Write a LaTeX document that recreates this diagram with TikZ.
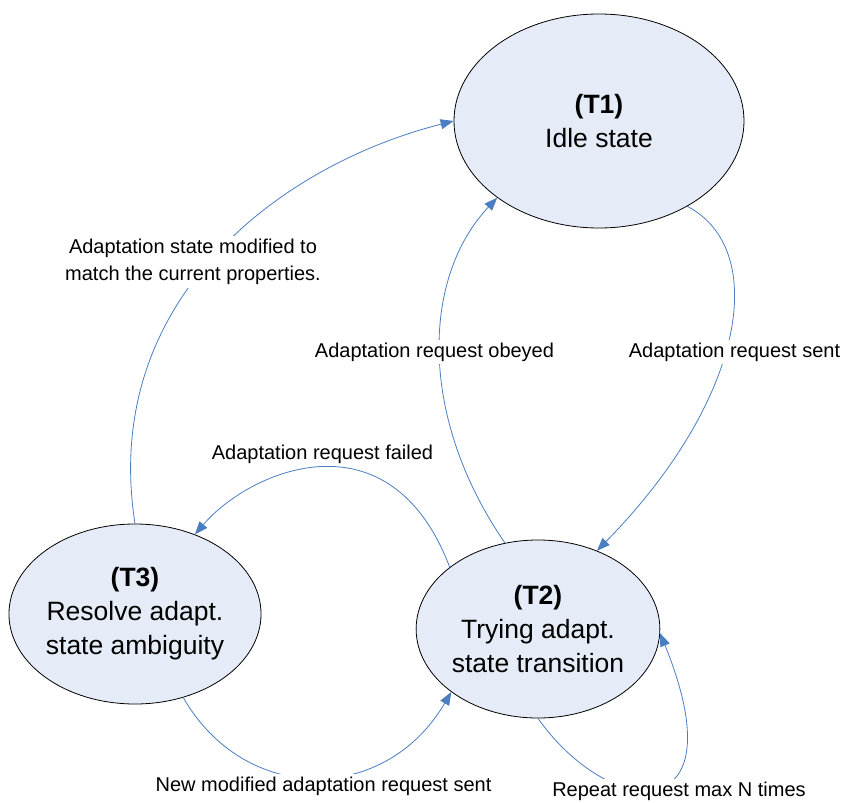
\documentclass[tikz,border=0pt]{standalone}
\usepackage{fontspec}
\setmainfont{Liberation Sans}
\usetikzlibrary{shapes.geometric,arrows.meta}
\definecolor{conncol}{RGB}{74,126,193}
\definecolor{statefill}{RGB}{230,236,247}
\tikzset{
  statenode/.style={ellipse,draw=black,line width=0.8pt,fill=statefill,inner sep=0pt,
    align=center,font=\fontsize{26.5}{34}\selectfont},
  conn/.style={draw=conncol,line width=0.8pt,-{Triangle[length=13pt,width=10pt]}},
  lbl/.style={fill=white,inner xsep=1pt,inner ysep=3pt,align=center,font=\fontsize{20}{27}\selectfont}
}
\begin{document}
\begin{tikzpicture}[x=1pt,y=-1pt]
\useasboundingbox (0,0) rectangle (844,803);
\node[statenode,minimum width=290pt,minimum height=214pt] (T1) at (599,121) {\textbf{(T1)}\\Idle state};
\node[statenode,minimum width=243pt,minimum height=178pt] (T2) at (538,629) {\textbf{(T2)}\\Trying adapt.\\state transition};
\node[statenode,minimum width=244pt,minimum height=180pt] (T3) at (135,614) {\textbf{(T3)}\\Resolve adapt.\\state ambiguity};

\draw[conn] (T3.90) .. controls (100,300) and (280,165) .. (T1.180);
\draw[conn] (T2.111.7) .. controls (420,420) and (420,280) .. (T1.217.3);
\draw[conn] (T1.316.7) .. controls (770,250) and (745,400) .. (T2.53.8);
\draw[conn] (T2.145.4) .. controls (390,410) and (250,470) .. (T3.53.8);
\draw[conn] (T3.300) .. controls (245,805) and (385,805) .. (T2.216.8);
\draw[conn] (T2.270) .. controls (610,820) and (740,830) .. (T2.358);

\node[lbl] (L1) at (193,262) {Adaptation state modified to\\match the current properties.};
\node[lbl] (L2) at (434.5,352) {Adaptation request obeyed};
\node[lbl] (L3) at (734.5,352) {Adaptation request sent};
\node[lbl] (L4) at (322.5,454) {Adaptation request failed};
\node[lbl] (L5) at (323.5,786) {New modified adaptation request sent};
\node[lbl] (L6) at (679,791) {Repeat request max N times};
\end{tikzpicture}
\end{document}
